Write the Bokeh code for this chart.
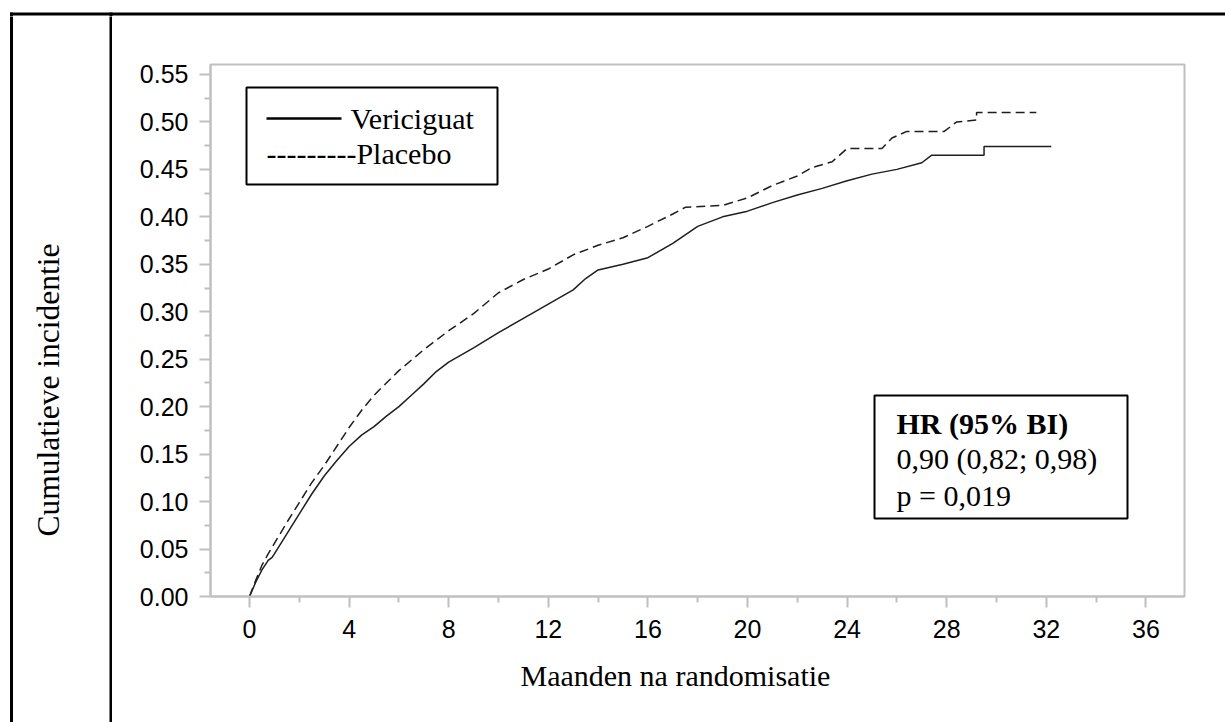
from bokeh.plotting import figure
from bokeh.layouts import column, row
from bokeh.models import FixedTicker, PrintfTickFormatter, Label, BoxAnnotation, Range1d
from bokeh.embed import file_html
from bokeh.resources import INLINE

# ---------------- data ----------------
x_ticks = [0, 4, 8, 12, 16, 20, 24, 28, 32, 36]
x_minor = [2, 6, 10, 14, 18, 22, 26, 30, 34]
y_ticks = [0.00, 0.05, 0.10, 0.15, 0.20, 0.25, 0.30, 0.35, 0.40, 0.45, 0.50, 0.55]
y_minor = [0.025, 0.075, 0.125, 0.175, 0.225, 0.275, 0.325, 0.375, 0.425, 0.475, 0.525]

months_vericiguat = [0, 0.25, 0.5, 0.75, 0.9, 1.0, 1.5, 2.0, 2.5, 3.0, 3.5, 4.0, 4.5, 5.0,
                     5.5, 6.0, 6.5, 7.0, 7.5, 8.0, 9.0, 10.0, 11.0, 12.0, 13.0, 13.5, 14.0,
                     15.0, 16.0, 17.0, 18.0, 19.0, 20.0, 21.0, 22.0, 23.0, 24.0, 25.0, 26.0,
                     27.0, 27.4, 29.5, 29.5, 32.2]
inc_vericiguat = [0.0, 0.015, 0.028, 0.038, 0.041, 0.045, 0.066, 0.087, 0.108, 0.127, 0.143,
                  0.158, 0.17, 0.179, 0.19, 0.2, 0.212, 0.224, 0.237, 0.247, 0.262, 0.278,
                  0.293, 0.308, 0.323, 0.335, 0.344, 0.35, 0.357, 0.372, 0.39, 0.4, 0.406,
                  0.415, 0.423, 0.43, 0.438, 0.445, 0.45, 0.457, 0.465, 0.465, 0.474, 0.474]

months_placebo = [0, 0.25, 0.5, 0.75, 1.0, 1.5, 2.0, 2.5, 3.0, 3.5, 4.0, 4.5, 5.0, 6.0, 7.0,
                  8.0, 9.0, 10.0, 11.0, 12.0, 13.0, 14.0, 15.0, 16.0, 17.0, 17.5, 19.0, 20.0,
                  21.0, 22.0, 22.6, 23.4, 24.0, 25.4, 25.8, 26.4, 27.9, 28.4, 29.2, 29.2, 31.6]
inc_placebo = [0.0, 0.017, 0.033, 0.045, 0.056, 0.078, 0.099, 0.12, 0.138, 0.158, 0.178,
               0.196, 0.212, 0.238, 0.26, 0.28, 0.298, 0.32, 0.334, 0.345, 0.36, 0.37,
               0.378, 0.39, 0.403, 0.41, 0.412, 0.42, 0.433, 0.443, 0.452, 0.458, 0.472,
               0.472, 0.483, 0.49, 0.49, 0.5, 0.502, 0.51, 0.51]

legend_labels = ["Vericiguat", "---------Placebo"]
hr_lines = ["HR (95% BI)", "0,90 (0,82; 0,98)", "p = 0,019"]
x_title = "Maanden na randomisatie"
y_title = "Cumulatieve incidentie"

SERIF = "Liberation Serif"
SANS = "Liberation Sans"


def blank(width, height):
    """A helper canvas whose frame fills it completely (pixel data ranges, y up)."""
    f = figure(width=width, height=height, output_backend="svg", toolbar_location=None,
               x_range=Range1d(0, width), y_range=Range1d(0, height),
               x_axis_location=None, y_axis_location=None, min_border=0)
    f.grid.visible = False
    f.outline_line_color = None
    f.background_fill_color = "white"
    f.border_fill_color = "white"
    return f


def bar(f, l, r, t, b, units="data"):
    f.add_layout(BoxAnnotation(left=l, right=r, top=t, bottom=b,
                               left_units=units, right_units=units,
                               top_units=units, bottom_units=units,
                               fill_color="black", fill_alpha=1.0, line_alpha=0.0))


# ---------------- top strip of the table (page y 0..16) ----------------
top = blank(1225, 16)
bar(top, 9.5, 1225, 4, 1)
bar(top, 9.5, 12.5, 4, -1)
bar(top, 109, 112, 4, -1)

# ---------------- left cell (page x 0..112, y 16..722) ----------------
left = blank(112, 706)
bar(left, 9.5, 12.5, 707, -1)
bar(left, 109, 112, 707, -1)
left.add_layout(Label(x=48, y=722 - 536, text=y_title, text_align="left",
                      text_baseline="middle", angle=90, angle_units="deg",
                      text_font=SERIF, text_font_size="31.5px", text_color="black"))

# ---------------- main chart (page x 112..1225, y 16..650) ----------------
# frame: page x 210..1184, y 64..596
p = figure(width=1113, height=634, output_backend="svg", toolbar_location=None,
           x_range=Range1d(-1.566, 37.55), y_range=Range1d(0, 0.5605),
           min_border_left=98, min_border_right=41, min_border_top=48, min_border_bottom=54)
p.grid.visible = False
p.outline_line_color = "#c0c0c0"
p.outline_line_width = 2
p.background_fill_color = "white"
p.border_fill_color = "white"

p.xaxis.ticker = FixedTicker(ticks=x_ticks, minor_ticks=x_minor)
p.yaxis.ticker = FixedTicker(ticks=y_ticks, minor_ticks=y_minor)
p.yaxis.formatter = PrintfTickFormatter(format="%.2f")
for ax in (p.xaxis[0], p.yaxis[0]):
    ax.axis_line_color = "#c0c0c0"
    ax.axis_line_width = 2
    ax.major_tick_line_color = "#c0c0c0"
    ax.major_tick_line_width = 2
    ax.minor_tick_line_color = "#c0c0c0"
    ax.minor_tick_line_width = 2
    ax.major_tick_in = 0
    ax.major_tick_out = 11
    ax.minor_tick_in = 0
    ax.minor_tick_out = 6
    ax.major_label_text_font = SANS
    ax.major_label_text_font_size = "25px"
    ax.major_label_text_color = "black"
p.yaxis.major_label_standoff = 11
p.xaxis.major_label_standoff = 12

p.line(months_vericiguat, inc_vericiguat, line_color="#1e1e1e", line_width=1.5)
p.line(months_placebo, inc_placebo, line_color="#1e1e1e", line_width=1.5, line_dash="9 5")

# legend box (screen units relative to the frame's bottom-left)
p.add_layout(BoxAnnotation(left=36, right=287, top=509, bottom=412,
                           left_units="screen", right_units="screen",
                           top_units="screen", bottom_units="screen",
                           fill_alpha=0.0, line_color="black", line_alpha=1.0, line_width=2))
bar(p, 56, 131, 479.2, 476.8, units="screen")
serif = dict(x_units="screen", y_units="screen", text_font=SERIF, text_font_size="30px",
             text_color="black", text_baseline="middle")
p.add_layout(Label(x=140, y=478, text=legend_labels[0], **serif))
p.add_layout(Label(x=56, y=443, text=legend_labels[1], **serif))

# HR box
p.add_layout(BoxAnnotation(left=664, right=917, top=201, bottom=78,
                           left_units="screen", right_units="screen",
                           top_units="screen", bottom_units="screen",
                           fill_color="white", fill_alpha=1.0,
                           line_color="black", line_alpha=1.0, line_width=2))
p.add_layout(Label(x=686, y=173, text=hr_lines[0], text_font_style="bold", **serif))
p.add_layout(Label(x=686, y=138, text=hr_lines[1], **serif))
p.add_layout(Label(x=686, y=101, text=hr_lines[2], **serif))

# ---------------- bottom strip with the x title (page y 650..722) ----------------
# Bokeh aligns this strip's frame with the chart frame above (page x 210..1184),
# so the title is placed relative to that frame.
bottom = blank(1113, 72)
bottom.add_layout(Label(x=520 - 210, y=722 - 675, x_units="screen", y_units="screen",
                        text=x_title, text_align="left", text_baseline="middle",
                        text_font=SERIF, text_font_size="30px", text_color="black"))

layout = column(top, row(left, column(p, bottom, spacing=0), spacing=0), spacing=0)

open("out.html", "w").write(file_html(layout, INLINE))
